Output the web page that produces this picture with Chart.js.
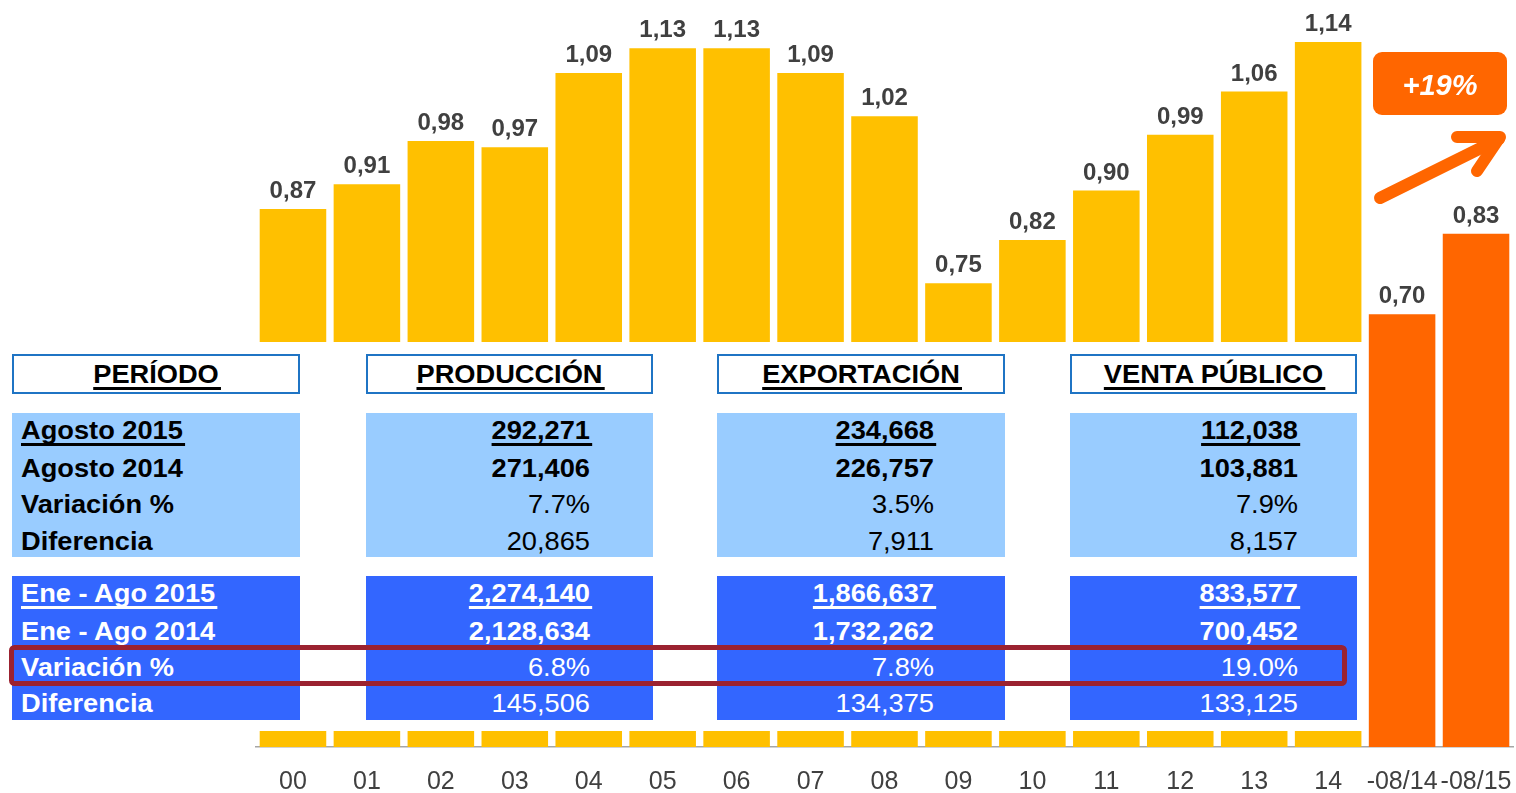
<!DOCTYPE html>
<html><head><meta charset="utf-8">
<script src="https://cdn.jsdelivr.net/npm/chart.js@4.4.1/dist/chart.umd.min.js"></script>
<style>
html,body{margin:0;padding:0;background:#fff;}
#wrap{position:relative;width:1516px;height:793px;overflow:hidden;}
canvas{position:absolute;left:0;top:0;}
#ov{position:absolute;left:0;top:0;}
</style></head><body>
<div id="wrap"><canvas id="c" width="1516" height="793"></canvas>
<svg id="ov" width="1516" height="793" xmlns="http://www.w3.org/2000/svg"></svg></div>
<script>
// ---- chart data ----
const categories = ['00','01','02','03','04','05','06','07','08','09','10','11','12','13','14','-08/14','-08/15'];
const values = [0.87,0.91,0.98,0.97,1.09,1.13,1.13,1.09,1.02,0.75,0.82,0.90,0.99,1.06,1.14,0.70,0.83];
const comparisonStart = 15; // index of the first comparison (Ene-Ago) bar

// ---- table data ----
const tableHeaders = ['PERÍODO','PRODUCCIÓN','EXPORTACIÓN','VENTA PÚBLICO'];
const monthRowLabels = ['Agosto 2015','Agosto 2014','Variación %','Diferencia'];
const ytdRowLabels = ['Ene - Ago 2015','Ene - Ago 2014','Variación %','Diferencia'];
const produccionMonth = ['292,271','271,406','7.7%','20,865'];
const exportacionMonth = ['234,668','226,757','3.5%','7,911'];
const ventaMonth = ['112,038','103,881','7.9%','8,157'];
const produccionYtd = ['2,274,140','2,128,634','6.8%','145,506'];
const exportacionYtd = ['1,866,637','1,732,262','7.8%','134,375'];
const ventaYtd = ['833,577','700,452','19.0%','133,125'];
const badgeText = '+19%';

const FONT = '"Liberation Sans", Arial, sans-serif';
const fmt = v => v.toFixed(2).replace('.', ',');

const valueLabels = {
  id: 'valueLabels',
  afterDatasetsDraw(chart) {
    const ctx = chart.ctx;
    const meta = chart.getDatasetMeta(0);
    ctx.save();
    ctx.font = 'bold 24px ' + FONT;
    ctx.fillStyle = '#404040';
    ctx.textAlign = 'center';
    ctx.textBaseline = 'alphabetic';
    meta.data.forEach((bar, i) => ctx.fillText(fmt(values[i]), bar.x, bar.y - 11));
    ctx.restore();
  }
};

new Chart(document.getElementById('c'), {
  type: 'bar',
  data: {
    labels: categories,
    datasets: [{
      data: values,
      backgroundColor: values.map((v, i) => i >= comparisonStart ? '#FF6600' : '#FFC000'),
      borderWidth: 0,
      barPercentage: 0.9,
      categoryPercentage: 1.0
    }]
  },
  options: {
    responsive: false,
    animation: false,
    layout: { padding: { left: 256, right: 3, top: 5, bottom: 0 } },
    plugins: { legend: { display: false }, tooltip: { enabled: false } },
    scales: {
      x: {
        grid: { display: false, drawTicks: false },
        border: { display: true, color: '#A6A6A6', width: 1.5 },
        ticks: { color: '#404040', font: { family: FONT, size: 25 }, padding: 20, maxRotation: 0, autoSkip: false },
        afterFit(scale) { scale.paddingLeft = 0; scale.paddingRight = 0; scale.height = 46; }
      },
      y: { display: false, min: 0, max: 1.2 }
    }
  },
  plugins: [valueLabels]
});

// ---- overlay: table, arrow, badge ----
const NS = 'http://www.w3.org/2000/svg';
const ov = document.getElementById('ov');
function el(tag, attrs, parent) {
  const e = document.createElementNS(NS, tag);
  for (const k in attrs) e.setAttribute(k, attrs[k]);
  (parent || ov).appendChild(e);
  return e;
}
const SX = 1.09;
function txt(str, x, y, opts) {
  const g = el('g', { transform: `translate(${x},${y}) scale(${SX},1)` });
  const t = el('text', {
    x: 0, y: 0, 'text-anchor': opts.anchor || 'start',
    'font-family': FONT, 'font-size': opts.size || 25,
    'font-weight': opts.bold ? 'bold' : 'normal', fill: opts.color || '#000'
  }, g);
  t.textContent = str;
  if (opts.underline) {
    const b = t.getBBox();
    el('rect', { x: b.x, y: 4, width: b.width + 2, height: 3, fill: opts.color || '#000' }, g);
  }
}

// white mask covering the lower part of the yearly bars
el('rect', { x: 0, y: 342, width: 1365, height: 389, fill: '#fff' });

const blocks = [[12, 300], [366, 653], [717, 1005], [1070, 1357]];
const valueRight = [590, 934, 1298];
// headers
blocks.forEach((b, i) => {
  el('rect', { x: b[0] + 1, y: 355, width: b[1] - b[0] - 2, height: 38, fill: '#fff', stroke: '#1F74C4', 'stroke-width': 2 });
  el('rect', { x: b[0], y: 392, width: b[1] - b[0], height: 2, fill: '#1F74C4' });
  txt(tableHeaders[i], (b[0] + b[1]) / 2, 383, { anchor: 'middle', bold: true, underline: true });
});

function section(top, bottom, fill, color, labels, cols, baselines) {
  blocks.forEach(b => el('rect', { x: b[0], y: top, width: b[1] - b[0], height: bottom - top, fill }));
  labels.forEach((l, r) => {
    txt(l, 21, baselines[r], { bold: true, underline: r === 0, color });
    cols.forEach((col, c) => {
      txt(col[r], valueRight[c], baselines[r], { anchor: 'end', bold: r < 2, underline: r === 0, color });
    });
  });
}
section(413, 557, '#99CCFF', '#000', monthRowLabels, [produccionMonth, exportacionMonth, ventaMonth], [439, 477, 513, 550]);
section(576, 720, '#3366FF', '#fff', ytdRowLabels, [produccionYtd, exportacionYtd, ventaYtd], [602, 640, 676, 712]);

// highlight rectangle
el('rect', { x: 11.5, y: 647.5, width: 1333, height: 36, rx: 3, fill: 'none', stroke: '#9B2230', 'stroke-width': 5 });

// badge
el('rect', { x: 1373, y: 52, width: 134, height: 63, rx: 9, fill: '#FF6600' });
const bt = el('text', { x: 1440, y: 95, 'text-anchor': 'middle', 'font-family': FONT, 'font-size': 29, 'font-weight': 'bold', 'font-style': 'italic', fill: '#fff' });
bt.textContent = badgeText;

// arrow
el('line', { x1: 1380, y1: 198, x2: 1499, y2: 139, stroke: '#FF6600', 'stroke-width': 12, 'stroke-linecap': 'round' });
el('polyline', { points: '1457,137 1500,137 1477,171', fill: 'none', stroke: '#FF6600', 'stroke-width': 12, 'stroke-linecap': 'round', 'stroke-linejoin': 'round' });
</script>
</body></html>
